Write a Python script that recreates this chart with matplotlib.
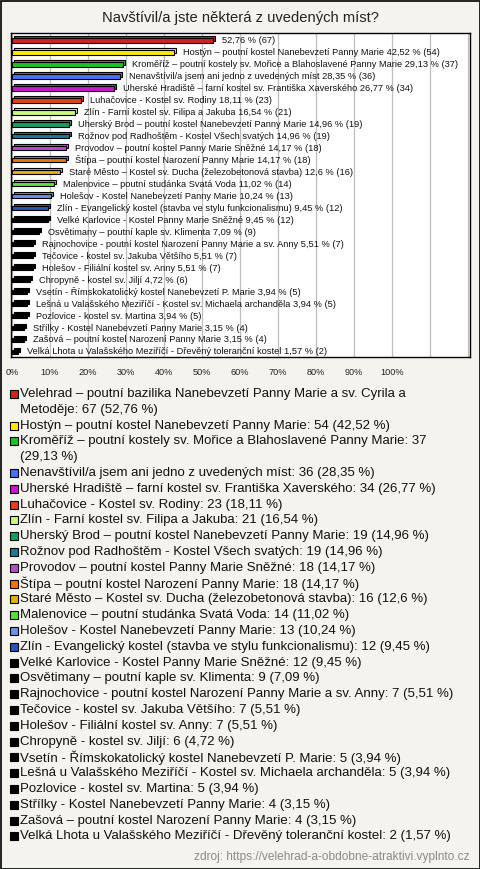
import matplotlib
matplotlib.use('Agg')
import matplotlib.pyplot as plt
from matplotlib.transforms import ScaledTranslation
from matplotlib.patches import Rectangle

# ---------------- data ----------------
names = [
    "Velehrad – poutní bazilika Nanebevzetí Panny Marie a sv. Cyrila a Metoděje",
    "Hostýn – poutní kostel Nanebevzetí Panny Marie",
    "Kroměříž – poutní kostely sv. Mořice a Blahoslavené Panny Marie",
    "Nenavštívil/a jsem ani jedno z uvedených míst",
    "Uherské Hradiště – farní kostel sv. Františka Xaverského",
    "Luhačovice - Kostel sv. Rodiny",
    "Zlín - Farní kostel sv. Filipa a Jakuba",
    "Uherský Brod – poutní kostel Nanebevzetí Panny Marie",
    "Rožnov pod Radhoštěm - Kostel Všech svatých",
    "Provodov – poutní kostel Panny Marie Sněžné",
    "Štípa – poutní kostel Narození Panny Marie",
    "Staré Město – Kostel sv. Ducha (železobetonová stavba)",
    "Malenovice – poutní studánka Svatá Voda",
    "Holešov - Kostel Nanebevzetí Panny Marie",
    "Zlín - Evangelický kostel (stavba ve stylu funkcionalismu)",
    "Velké Karlovice - Kostel Panny Marie Sněžné",
    "Osvětimany – poutní kaple sv. Klimenta",
    "Rajnochovice - poutní kostel Narození Panny Marie a sv. Anny",
    "Tečovice - kostel sv. Jakuba Většího",
    "Holešov - Filiální kostel sv. Anny",
    "Chropyně - kostel sv. Jiljí",
    "Vsetín - Římskokatolický kostel Nanebevzetí P. Marie",
    "Lešná u Valašského Meziříčí - Kostel sv. Michaela archanděla",
    "Pozlovice - kostel sv. Martina",
    "Střílky - Kostel Nanebevzetí Panny Marie",
    "Zašová – poutní kostel Narození Panny Marie",
    "Velká Lhota u Valašského Meziříčí - Dřevěný toleranční kostel",
]
counts = [67, 54, 37, 36, 34, 23, 21, 19, 19, 18, 18, 16, 14, 13, 12, 12,
          9, 7, 7, 7, 6, 5, 5, 5, 4, 4, 2]
percents = [52.76, 42.52, 29.13, 28.35, 26.77, 18.11, 16.54, 14.96, 14.96,
            14.17, 14.17, 12.6, 11.02, 10.24, 9.45, 9.45, 7.09, 5.51, 5.51,
            5.51, 4.72, 3.94, 3.94, 3.94, 3.15, 3.15, 1.57]
show_name_on_bar = [False] + [True] * 26
colors = ["#C8281A", "#FFE810", "#22C022", "#4A72F0", "#C41CCC", "#E2401A",
          "#CCF880", "#1A9A64", "#1F7A90", "#B452C4", "#E8780E", "#E2B214",
          "#5CE040", "#6C92E0", "#2A54B4"] + ["#000000"] * 12
tick_values = list(range(0, 121, 10))
tick_labels = [f"{t}%" if t <= 100 else "" for t in tick_values]
title = "Navštívil/a jste některá z uvedených míst?"
source = "zdroj: https://velehrad-a-obdobne-atraktivi.vyplnto.cz"

def fmt(p):
    return f"{p:g}".replace(".", ",")

# ---------------- figure ----------------
W, H = 480, 869
DPI = 100
BG = "#F4F3EE"
plt.rcParams['font.family'] = ['Liberation Sans', 'DejaVu Sans']
fig = plt.figure(figsize=(W / DPI, H / DPI), dpi=DPI, facecolor=BG)

def fx(px):
    return px / W

def fy(py):
    return 1 - py / H

fig.add_artist(Rectangle((0.5 / W, 0.5 / H), 1 - 1.0 / W, 1 - 1.0 / H,
                         transform=fig.transFigure, fill=False,
                         ec="#000000", lw=1.2))

fig.text(0.5, fy(18), title, ha='center', va='center', fontsize=10.6,
         color="#222222")

ax = fig.add_axes([fx(11), fy(357), fx(459), 324 / H])
ax.set_facecolor("white")
n = len(names)
ypos = list(range(n))
ax.set_xlim(-0.26, 120.5)
ax.set_ylim(n - 1 + 0.42, -0.625)

ax.set_xticks(tick_values)
ax.set_xticklabels(tick_labels, fontsize=6.6, color="#222222")
ax.tick_params(axis='x', length=0, pad=8)
ax.set_yticks([])
ax.xaxis.grid(True, color="#BDBDBD", lw=0.9)
ax.set_axisbelow(True)
for s in ax.spines.values():
    s.set_color("black")
    s.set_linewidth(1.0)

bh = 0.36
off = ScaledTranslation(2 / DPI, 2 / DPI, fig.dpi_scale_trans)
back = ax.barh(ypos, percents, height=bh, color=colors, edgecolor="black",
               linewidth=0.8, zorder=2)
for p in back.patches:
    p.set_transform(ax.transData + off)
ax.barh(ypos, percents, height=bh, color=colors, edgecolor="black",
        linewidth=0.8, zorder=3)

for i in range(n):
    lab = f"{fmt(percents[i])} % ({counts[i]})"
    if show_name_on_bar[i]:
        lab = f"{names[i]} {lab}"
    ax.annotate(lab, xy=(percents[i], ypos[i]), xytext=(6.5, 0),
                textcoords='offset points', va='center', ha='left',
                fontsize=6.65, color="#111111", zorder=4)

# ---------------- legend ----------------
renderer = fig.canvas.get_renderer()
LFS = 9.55
MAXW = 440

def width_of(s):
    t = fig.text(0, 0, s, fontsize=LFS)
    w = t.get_window_extent(renderer).width
    t.remove()
    return w

def wrap(s):
    words = s.split(" ")
    lines, cur = [], ""
    for w in words:
        cand = w if not cur else cur + " " + w
        if width_of(cand) <= MAXW or not cur:
            cur = cand
        else:
            lines.append(cur)
            cur = w
    lines.append(cur)
    return lines

y0 = 394.0
step = 15.8
line = 0
for i in range(n):
    entry = f"{names[i]}: {counts[i]} ({fmt(percents[i])} %)"
    lines = wrap(entry)
    yc = y0 + line * step
    fig.add_artist(Rectangle((fx(10), fy(yc + 4)), 8 / W, 8 / H,
                             transform=fig.transFigure, fc=colors[i],
                             ec="black", lw=0.8))
    for k, ln in enumerate(lines):
        fig.text(fx(20), fy(y0 + (line + k) * step), ln, fontsize=LFS,
                 va='center', ha='left', color="#111111")
    line += len(lines)

fig.text(fx(470), fy(857), source, ha='right', va='center', fontsize=8.6,
         color="#8A8A8A")

fig.savefig("out.png", dpi=DPI, facecolor=BG)
